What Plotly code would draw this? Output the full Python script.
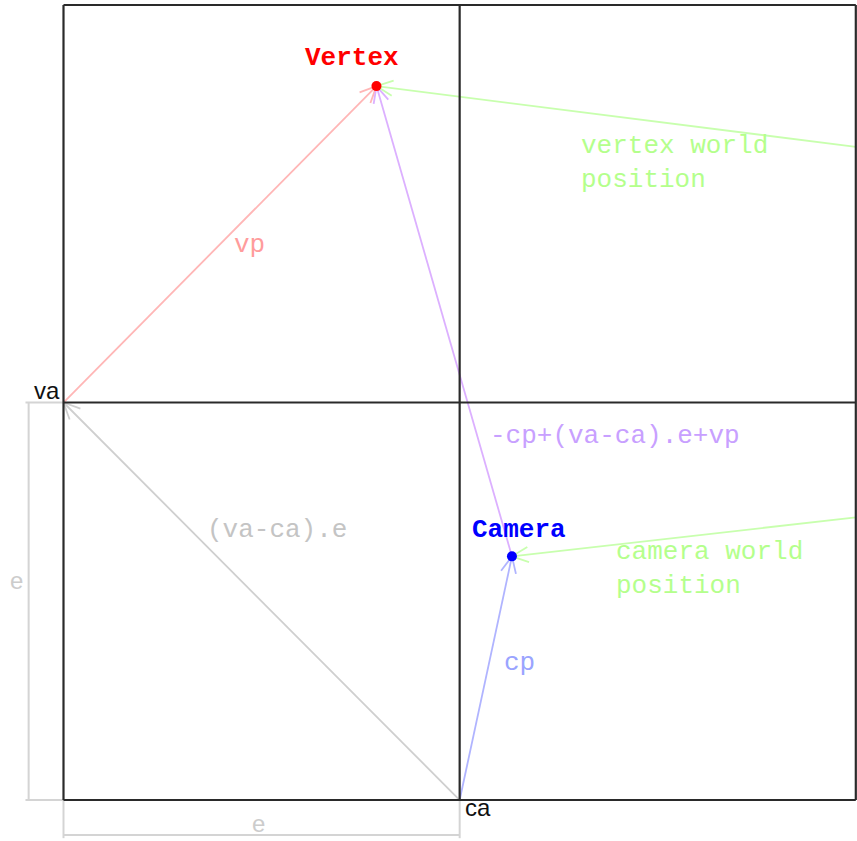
import math
import plotly.graph_objects as go

# ---- data (unit = edge length e) ----
grid_x = [-1, 0, 1]
grid_y = [0, 1, 2]

va = (-1.0, 1.0)
ca = (0.0, 0.0)
vertex = (-0.21, 1.796)
camera = (0.132, 0.613)
vertex_world_from = (1.0, 1.643)
camera_world_from = (1.0, 0.711)

arrow_names = ["vp", "path", "vaca", "cp", "vworld", "cworld"]
arrow_starts = [va, camera, ca, ca, vertex_world_from, camera_world_from]
arrow_ends = [vertex, vertex, va, camera, vertex, camera]
arrow_colors = ["#ffb6b6", "#dcb0ff", "#cfcfcf", "#b0b4ff", "#c8ffae", "#c8ffae"]

text_labels = ["vp", "-cp+(va-ca).e+vp", "(va-ca).e", "cp",
               "vertex world<br>position", "camera world<br>position"]
text_x = [-0.574, 0.0705, -0.642, 0.106, 0.302, 0.390]
text_y = [1.396, 0.916, 0.679, 0.345, 1.603, 0.581]
text_colors = ["#ff9c9c", "#c8a0ff", "#c4c4c4", "#9aa4ff", "#b4ff8c", "#b4ff8c"]

# ---- layout geometry ----
W, H = 857, 841
xr = [-1.1603, 1.003]
yr = [-0.1031, 2.0126]
sx = W / (xr[1] - xr[0])
sy = H / (yr[1] - yr[0])

fig = go.Figure()

def line(xs, ys, color, width):
    fig.add_trace(go.Scatter(x=xs, y=ys, mode="lines", hoverinfo="skip",
                             line=dict(color=color, width=width), showlegend=False))

# dimension lines (gray)
dim_c = "#d4d4d4"
dx_left = -1.088
dy_bot = -0.088
line([dx_left, dx_left], [grid_y[0], grid_y[1]], dim_c, 2)
line([dx_left - 0.008, grid_x[0]], [grid_y[1], grid_y[1]], dim_c, 2)
line([dx_left - 0.008, grid_x[0]], [grid_y[0], grid_y[0]], dim_c, 2)
line([grid_x[0], grid_x[1]], [dy_bot, dy_bot], dim_c, 2)
line([grid_x[0], grid_x[0]], [grid_y[0], dy_bot - 0.008], dim_c, 2)
line([grid_x[1], grid_x[1]], [grid_y[0], dy_bot - 0.008], dim_c, 2)

# arrows
head_len = 18
half = math.radians(25)
for s, e, c in zip(arrow_starts, arrow_ends, arrow_colors):
    line([s[0], e[0]], [s[1], e[1]], c, 1.8)
    px = (e[0] - s[0]) * sx
    py = (e[1] - s[1]) * sy
    ang = math.atan2(py, px) + math.pi
    for k in (-1, 1):
        a = ang + k * half
        wx = e[0] + head_len * math.cos(a) / sx
        wy = e[1] + head_len * math.sin(a) / sy
        line([e[0], wx], [e[1], wy], c, 1.8)

# grid
for gx in grid_x:
    line([gx, gx], [grid_y[0], grid_y[-1]], "#2a2a2a", 2.2)
for gy in grid_y:
    line([grid_x[0], grid_x[-1]], [gy, gy], "#2a2a2a", 2.2)

# points
fig.add_trace(go.Scatter(x=[vertex[0]], y=[vertex[1]], mode="markers", hoverinfo="skip",
                         marker=dict(color="#ff0000", size=10), showlegend=False))
fig.add_trace(go.Scatter(x=[camera[0]], y=[camera[1]], mode="markers", hoverinfo="skip",
                         marker=dict(color="#0000ff", size=10), showlegend=False))

mono = "Liberation Mono, Courier New, monospace"
for t, x, y, c in zip(text_labels, text_x, text_y, text_colors):
    fig.add_annotation(x=x, y=y, text=t, showarrow=False, xanchor="left", yanchor="middle",
                       align="left", font=dict(family=mono, size=26, color=c))

fig.add_annotation(x=-0.395, y=1.867, text="<b>Vertex</b>", showarrow=False, xanchor="left",
                   yanchor="middle", font=dict(family=mono, size=26, color="#ff0000"))
fig.add_annotation(x=0.025, y=0.679, text="<b>Camera</b>", showarrow=False, xanchor="left",
                   yanchor="middle", font=dict(family=mono, size=26, color="#0000ff"))

sans = "Liberation Sans, Arial, sans-serif"
fig.add_annotation(x=-1.003, y=1.031, text="va", showarrow=False, xanchor="right", yanchor="middle",
                   font=dict(family=sans, size=24, color="#111111"))
fig.add_annotation(x=0.008, y=-0.02, text="ca", showarrow=False, xanchor="left", yanchor="middle",
                   font=dict(family=sans, size=24, color="#111111"))
fig.add_annotation(x=-1.118, y=0.553, text="e", showarrow=False, xanchor="center", yanchor="middle",
                   font=dict(family=sans, size=24, color="#cccccc"))
fig.add_annotation(x=-0.509, y=-0.060, text="e", showarrow=False, xanchor="center", yanchor="middle",
                   font=dict(family=sans, size=24, color="#cccccc"))

fig.update_layout(width=W, height=H, margin=dict(l=0, r=0, t=0, b=0),
                  plot_bgcolor="white", paper_bgcolor="white",
                  xaxis=dict(range=xr, visible=False, fixedrange=True),
                  yaxis=dict(range=yr, visible=False, fixedrange=True))
fig.write_html("out.html", config={"displayModeBar": False},
               post_script="document.body.style.margin='0';document.body.style.overflow='hidden';")
